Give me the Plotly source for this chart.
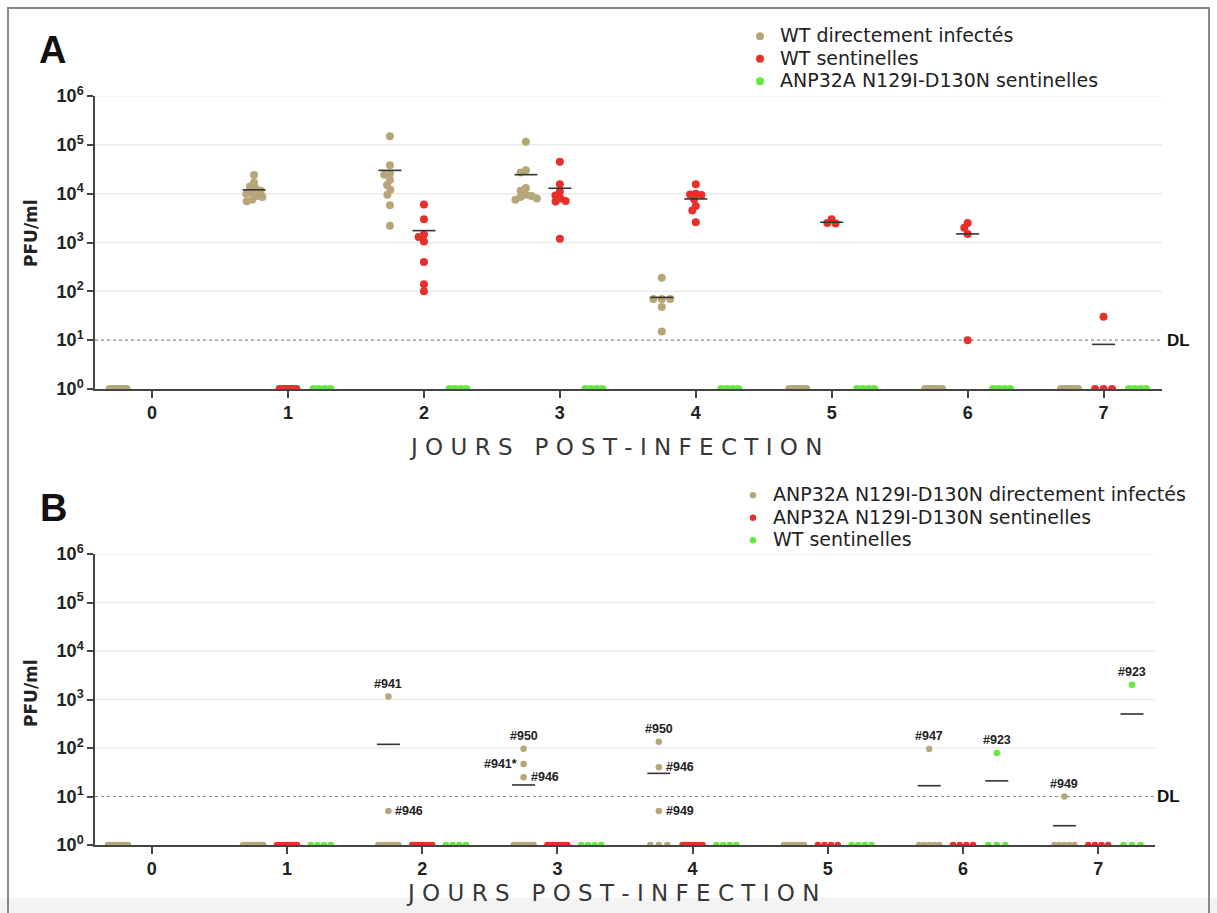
import numpy as np
import plotly.graph_objects as go
from collections import Counter

# ---------------- DATA ----------------
DAYS = [0, 1, 2, 3, 4, 5, 6, 7]
TAN, RED, GREEN = "#B8A67B", "#E8302B", "#62E83E"

# Panel A
A_names = ["WT directement infectés", "WT sentinelles", "ANP32A N129I-D130N sentinelles"]
A_tan = {0: [1, 1, 1, 1, 1, 1, 1, 1, 1, 1, 1],
         1: [24000, 17000, 14000, 13000, 11500, 10500, 10000, 9000, 8500, 7500, 7000],
         2: [150000, 38000, 25500, 24500, 19000, 15000, 12000, 9500, 5800, 2200],
         3: [115000, 30000, 27000, 13000, 11500, 9500, 9000, 8500, 8000, 7500],
         4: [190, 70, 70, 70, 48, 15],
         5: [1, 1, 1, 1, 1, 1],
         6: [1, 1, 1, 1, 1, 1],
         7: [1, 1, 1, 1, 1, 1]}
A_red = {1: [1, 1, 1, 1, 1, 1, 1, 1],
         2: [6000, 3000, 1450, 1300, 1050, 400, 140, 100],
         3: [45000, 15500, 11000, 9200, 8000, 7100, 6900, 1200],
         4: [15500, 10000, 9600, 9400, 7700, 5600, 4500, 2600],
         5: [3000, 2500, 2450],
         6: [2500, 2000, 1500, 10],
         7: [30, 1, 1, 1]}
A_green = {1: [1, 1, 1, 1], 2: [1, 1, 1, 1], 3: [1, 1, 1, 1], 4: [1, 1, 1, 1],
           5: [1, 1, 1, 1], 6: [1, 1, 1, 1], 7: [1, 1, 1, 1]}
A_tan_mean = {1: 12000, 2: 30000, 3: 24500, 4: 75}
A_red_mean = {2: 1750, 3: 12900, 4: 7800, 5: 2600, 6: 1500, 7: 8.2}
A_green_mean = {}

# Panel B
B_names = ["ANP32A N129I-D130N directement infectés", "ANP32A N129I-D130N sentinelles", "WT sentinelles"]
B_tan = {0: [1, 1, 1, 1, 1, 1, 1, 1, 1, 1],
         1: [1, 1, 1, 1, 1, 1, 1, 1, 1, 1],
         2: [1150, 5, 1, 1, 1, 1, 1, 1, 1, 1],
         3: [97, 47, 25, 1, 1, 1, 1, 1, 1, 1],
         4: [135, 40, 5, 1, 1, 1],
         5: [1, 1, 1, 1, 1, 1],
         6: [95, 1, 1, 1, 1, 1],
         7: [10, 1, 1, 1, 1, 1]}
B_red = {1: [1, 1, 1, 1, 1, 1, 1, 1], 2: [1, 1, 1, 1, 1, 1, 1, 1],
         3: [1, 1, 1, 1, 1, 1, 1, 1], 4: [1, 1, 1, 1, 1, 1, 1, 1],
         5: [1, 1, 1, 1], 6: [1, 1, 1, 1], 7: [1, 1, 1, 1]}
B_green = {1: [1, 1, 1, 1], 2: [1, 1, 1, 1], 3: [1, 1, 1, 1], 4: [1, 1, 1, 1],
           5: [1, 1, 1, 1], 6: [79, 1, 1, 1], 7: [2020, 1, 1, 1]}
B_tan_mean = {2: 119, 3: 17.3, 4: 30, 6: 16.7, 7: 2.5}
B_red_mean = {}
B_green_mean = {6: 21, 7: 503}

# labels: (series index, day, value, text, position)
B_labels = [(0, 2, 1150, "#941", "above"), (0, 2, 5, "#946", "right"),
            (0, 3, 97, "#950", "above"), (0, 3, 47, "#941*", "left"), (0, 3, 25, "#946", "right"),
            (0, 4, 135, "#950", "above"), (0, 4, 40, "#946", "right"), (0, 4, 5, "#949", "right"),
            (0, 6, 95, "#947", "above"), (2, 6, 79, "#923", "above"),
            (0, 7, 10, "#949", "above"), (2, 7, 2020, "#923", "above")]

DL = 10
Y_TICKS = [1, 10, 100, 1000, 10000, 100000, 1000000]
X_TITLE = "J O U R S   P O S T - I N F E C T I O N"

# ---------------- LAYOUT HELPERS ----------------
W, H = 1217, 913
OFFS = [-0.25, 0.0, 0.25]
COLORS = [TAN, RED, GREEN]
FONT = "Liberation Sans, Arial, sans-serif"
WFONT = "DejaVu Sans, Verdana, sans-serif"


def swarm(vals, ppd, ppdec, d, half_max, row_d):
    n = len(vals)
    xs = [0.0] * n
    ys = [np.log10(v) * ppdec for v in vals]
    cnt = Counter(vals)
    placed = []
    for v, k in cnt.items():
        if k > 1:
            idx = [i for i in range(n) if vals[i] == v]
            step = row_d if (k - 1) * row_d / 2 <= half_max else 2 * half_max / (k - 1)
            for j, i in enumerate(idx):
                xs[i] = (j - (k - 1) / 2) * step
                placed.append((xs[i], ys[i]))
    singles = sorted([i for i in range(n) if cnt[vals[i]] == 1], key=lambda i: -ys[i])
    for i in singles:
        y = ys[i]
        cands = [0.0]
        for (px, py_) in placed:
            dy = abs(py_ - y)
            if dy < d:
                dx = np.sqrt(d * d - dy * dy)
                cands += [px + dx, px - dx]
        cands.sort(key=lambda c: (abs(c), c))
        for c in cands:
            if all((c - px) ** 2 + (y - py_) ** 2 >= d * d - 1e-6 for px, py_ in placed):
                xs[i] = c
                break
        placed.append((xs[i], y))
    return [x / ppd for x in xs]


def legend_label(s):
    return '<span style="font-size:19px">%s</span>' % s


fig = go.Figure()

panels = [
    dict(series=[A_tan, A_red, A_green], means=[A_tan_mean, A_red_mean, A_green_mean], names=A_names,
         xa="x", ya="y", legend="legend", ppd=135.9, ppdec=48.8, msize=8, d=5.8, row_d=8.5, half=8.5,
         xrange=[-0.42, 7.43], labels=[]),
    dict(series=[B_tan, B_red, B_green], means=[B_tan_mean, B_red_mean, B_green_mean], names=B_names,
         xa="x2", ya="y2", legend="legend2", ppd=135.1, ppdec=48.5, msize=6.5, d=6.0, row_d=8.5, half=10,
         xrange=[-0.42, 7.42], labels=B_labels),
]

annotations = []
for P in panels:
    for v in Y_TICKS[2:]:
        fig.add_trace(go.Scatter(x=P["xrange"], y=[v, v], mode="lines", xaxis=P["xa"], yaxis=P["ya"],
                                 line=dict(color="#ebebeb", width=1.5), showlegend=False, hoverinfo="skip"))
    fig.add_trace(go.Scatter(x=P["xrange"], y=[DL, DL], mode="lines", xaxis=P["xa"], yaxis=P["ya"],
                             line=dict(color="#8a8a8a", width=1.2, dash="dot"), showlegend=False, hoverinfo="skip"))
    positions = {}
    for si, (ser, name) in enumerate(zip(P["series"], P["names"])):
        xs, ys = [], []
        for day in DAYS:
            if day not in ser:
                continue
            vals = ser[day]
            offs = swarm(vals, P["ppd"], P["ppdec"], P["d"], P["half"], P["row_d"])
            for v, o in zip(vals, offs):
                xs.append(day + OFFS[si] + o)
                ys.append(v)
                positions.setdefault((si, day, v), day + OFFS[si] + o)
        fig.add_trace(go.Scatter(x=xs, y=ys, mode="markers", name=legend_label(name), xaxis=P["xa"],
                                 yaxis=P["ya"], legend=P["legend"],
                                 marker=dict(color=COLORS[si], size=P["msize"], line=dict(width=0))))
    for si, mdict in enumerate(P["means"]):
        lx, ly = [], []
        hw = 11.5 / P["ppd"]
        for day, m in mdict.items():
            c = day + OFFS[si]
            lx += [c - hw, c + hw, None]
            ly += [m, m, None]
        if lx:
            fig.add_trace(go.Scatter(x=lx, y=ly, mode="lines", xaxis=P["xa"], yaxis=P["ya"],
                                     line=dict(color="#333333", width=1.6), showlegend=False, hoverinfo="skip"))
    for (si, day, v, txt, pos) in P["labels"]:
        px = positions[(si, day, v)]
        a = dict(x=px, y=np.log10(v), xref=P["xa"], yref=P["ya"], text="<b>%s</b>" % txt, showarrow=False,
                 font=dict(size=12.5, color="#222", family=FONT))
        if pos == "above":
            a.update(yanchor="bottom", yshift=4)
        elif pos == "right":
            a.update(xanchor="left", xshift=5)
        else:
            a.update(xanchor="right", xshift=-5)
        annotations.append(a)


def py(pix):
    return 1 - pix / H


for (t, xc, yc) in [("<b>A</b>", 52, 50), ("<b>B</b>", 53, 508)]:
    annotations.append(dict(text=t, x=xc / W, y=py(yc), xref="paper", yref="paper", showarrow=False,
                            xanchor="center", yanchor="middle", font=dict(size=38, color="#111", family=FONT)))
for ycen in [233, 693]:
    annotations.append(dict(text="<b>PFU/ml</b>", x=31 / W, y=py(ycen), xref="paper", yref="paper",
                            showarrow=False, textangle=-90, xanchor="center", yanchor="middle",
                            font=dict(size=17, color="#222", family=WFONT)))
for (xc, ycen) in [(615, 447), (612, 893)]:
    annotations.append(dict(text=X_TITLE, x=xc / W, y=py(ycen), xref="paper", yref="paper", showarrow=False,
                            xanchor="center", yanchor="middle", font=dict(size=23, color="#383838", family=WFONT)))
for (ya, xs_) in [("y", 1165), ("y2", 1155)]:
    annotations.append(dict(text="<b>DL</b>", x=xs_ / W, y=np.log10(DL), xref="paper", yref=ya, showarrow=False,
                            xanchor="left", yanchor="middle", font=dict(size=17, color="#111", family=FONT)))

tick_text = ["<b>10<sup>%d</sup></b>" % int(np.log10(v)) for v in Y_TICKS]
xaxis_common = dict(tickvals=DAYS, ticktext=["<b>%d</b>" % d for d in DAYS], ticks="outside",
                    ticklen=7, tickwidth=1.5, tickcolor="#444", showline=True, linecolor="#444", linewidth=1.5,
                    showgrid=False, zeroline=False, automargin=False,
                    tickfont=dict(size=18, color="#222", family=FONT))
yaxis_common = dict(type="log", range=[0, 6], tickvals=Y_TICKS, ticktext=tick_text, ticks="outside", ticklen=6,
                    tickwidth=1.5, tickcolor="#444", showline=True, linecolor="#444", linewidth=1.5,
                    showgrid=False, zeroline=False, automargin=False,
                    tickfont=dict(size=18, color="#222", family=FONT))

fig.update_layout(
    template="none",
    width=W, height=H, margin=dict(l=0, r=0, t=0, b=0, pad=0, autoexpand=False),
    paper_bgcolor="white", plot_bgcolor="white",
    xaxis=dict(xaxis_common, range=panels[0]["xrange"], domain=[95 / W, 1162 / W], anchor="y"),
    yaxis=dict(yaxis_common, domain=[py(389), py(96)], anchor="x"),
    xaxis2=dict(xaxis_common, range=panels[1]["xrange"], domain=[95 / W, 1155 / W], anchor="y2"),
    yaxis2=dict(yaxis_common, domain=[py(845), py(554)], anchor="x2"),
    legend=dict(x=740 / W, y=py(20), xanchor="left", yanchor="top", bgcolor="rgba(0,0,0,0)",
                font=dict(size=15, color="#222", family=WFONT), itemsizing="trace", tracegroupgap=0),
    legend2=dict(x=733 / W, y=py(479), xanchor="left", yanchor="top", bgcolor="rgba(0,0,0,0)",
                 font=dict(size=15, color="#222", family=WFONT), itemsizing="trace", tracegroupgap=0),
    annotations=annotations,
    shapes=[
        dict(type="rect", xref="paper", yref="paper", x0=0, x1=1, y0=0, y1=py(898), fillcolor="#f3f3f3",
             line=dict(width=0), layer="below"),
        dict(type="rect", xref="paper", yref="paper", x0=8 / W, x1=1209 / W, y0=-0.05, y1=py(8),
             line=dict(color="#8a8a8a", width=2), layer="above"),
    ],
    hovermode=False,
)

fig.write_html("out.html", config={"displayModeBar": False},
               post_script="document.body.style.margin='0';document.body.style.overflow='hidden';")
